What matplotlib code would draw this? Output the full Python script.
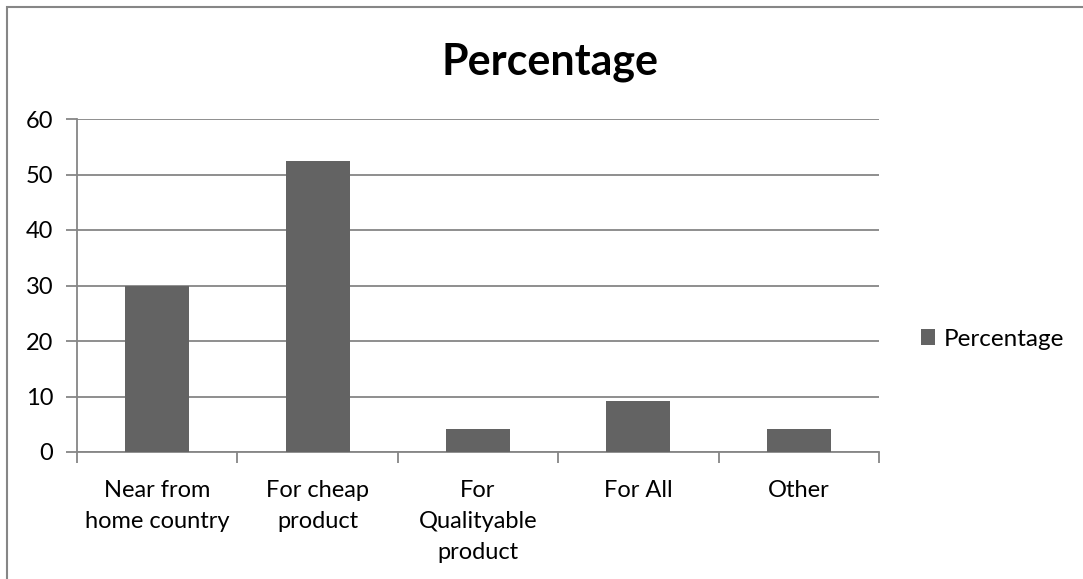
import matplotlib
matplotlib.use("Agg")
import matplotlib.pyplot as plt
from matplotlib.patches import Rectangle
import numpy as np

categories = ["Near from\nhome country", "For cheap\nproduct", "For\nQualityable\nproduct", "For All", "Other"]
values = [30, 52.5, 4.2, 9.1, 4.2]
series_name = "Percentage"
yticks = [0, 10, 20, 30, 40, 50, 60]

plt.rcParams['font.family'] = ['Lato', 'DejaVu Sans']

fig = plt.figure(figsize=(10.83, 5.79), dpi=100)
W, H = 1083, 579
# plot area in pixels
x0, x1, y0, y1 = 77, 879, 119, 452
ax = fig.add_axes([x0 / W, 1 - y1 / H, (x1 - x0) / W, (y1 - y0) / H])

grid_c = "#868686"
bar_c = "#636363"

x = np.arange(len(categories))
ax.bar(x, values, width=0.4, color=bar_c, zorder=3, label=series_name)
ax.set_xlim(-0.5, len(categories) - 0.5)
ax.set_ylim(0, 60)
ax.set_yticks(yticks)
ax.yaxis.grid(True, color=grid_c, linewidth=1.3, zorder=0)
for s in ["top", "right"]:
    ax.spines[s].set_visible(False)
for s in ["left", "bottom"]:
    ax.spines[s].set_color(grid_c)
    ax.spines[s].set_linewidth(1.3)

ax.set_xticks(x)
ax.set_xticklabels(categories, fontsize=17, linespacing=1.6, va="top")
ax.set_xticks(np.arange(-0.5, len(categories)), minor=True)
ax.tick_params(axis="x", which="major", length=0, pad=20, colors="black")
ax.tick_params(axis="x", which="minor", length=8, width=1.3, color=grid_c)
ax.tick_params(axis="y", length=8, width=1.3, color=grid_c, labelsize=17, pad=9, labelcolor="black")

fig.text(550 / W, 1 - 75 / H, "Percentage", fontsize=31, fontweight="bold",
         ha="center", va="baseline")

leg = fig.legend(loc="center left", bbox_to_anchor=(899 / W, 1 - 339 / H), frameon=False,
                 fontsize=17.5, handlelength=0.6, handleheight=0.6, handletextpad=0.35)

# chart border (left and top edges visible)
fig.patches.append(Rectangle((7 / W, -1), 2, 2 - 7 / H, transform=fig.transFigure,
                             fill=False, edgecolor=grid_c, linewidth=1.5))

fig.savefig("out.png", dpi=100)
